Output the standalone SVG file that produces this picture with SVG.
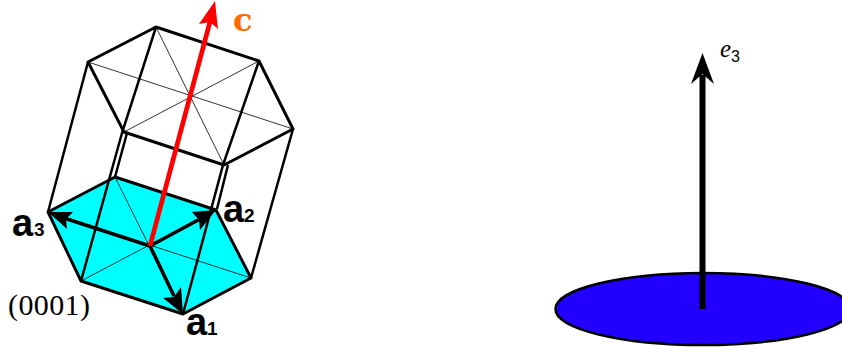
<svg xmlns="http://www.w3.org/2000/svg" width="842" height="350" viewBox="0 0 842 350">
<style>
.e{fill:none;stroke:#000;stroke-width:2.9;stroke-linejoin:round}
.v{fill:none;stroke:#000;stroke-width:2.5;stroke-linejoin:round}
.t{fill:none;stroke:#000;stroke-width:.8}
.a{stroke:#000;stroke-width:3.6;fill:none}
.h{fill:#000;stroke:none}
.b{font-family:"Liberation Sans",Arial,sans-serif;font-weight:bold;fill:#000}
</style>
<rect width="842" height="350" fill="#fff"/>
<g id="base-face">
<polygon points="48,212 115,177 216,210 251,278 183,314 81,281" fill="#00ffff"/>
<path class="t" d="M115,177L183,314M48,212L251,278M81,281L216,210"/>
<polygon class="e" points="48,212 115,177 216,210 251,278 183,314 81,281"/>
</g>
<g id="top-face">
<polygon class="e" points="156,27 259,61 293,129 224,165 124,132 88,62"/>
<path class="t" d="M156,27L224,165M259,61L124,132M88,62L293,129"/>
</g>
<g id="connectors">
<path class="v" d="M88,62L48,212M156,27L122,133L81,281M127,133L115,177M259,61L223,165L183,314M228,165L217,209M293,129L251,278"/>
<path class="a" d="M150,246L64,218"/><polygon class="h" points="48,212 73,212 66,219 67,229"/>
<path class="a" d="M150,246L200,219"/><polygon class="h" points="216,210 192,212 199,220 200,230"/>
<path class="a" d="M150,246L174,296"/><polygon class="h" points="183,314 163,298 174,297 181,287"/>
<path d="M150,246L211,18" fill="none" stroke="#ff0000" stroke-width="4.800"/>
<polygon points="215,1 199,24 210,22 218,29" fill="#ff0000"/>
</g>
<g id="label-c"><text x="233" y="31" font-family="'DejaVu Serif',serif" font-weight="bold" font-size="32" fill="#ff6a00">c</text></g>
<g id="label-a1"><text class="b" x="186" y="335" font-size="38">a</text><text class="b" x="207" y="335" font-size="19" font-weight="normal">1</text></g>
<g id="label-a2"><text class="b" x="223" y="222" font-size="38">a</text><text class="b" x="244" y="222" font-size="19">2</text></g>
<g id="label-a3"><text class="b" x="12" y="236" font-size="38">a</text><text class="b" x="34" y="236" font-size="19">3</text></g>
<g id="label-0001"><text x="8" y="315" font-family="'Liberation Serif',serif" font-size="30" letter-spacing=".4" fill="#000">(0001)</text></g>
<g id="disk"><ellipse cx="703" cy="309" rx="147.500" ry="36" fill="#2200ff" stroke="#000" stroke-width="2.500"/></g>
<g id="axis-e3">
<path d="M702.500,309V75" stroke="#000" stroke-width="6" fill="none"/>
<polygon class="h" points="702.500,53 691,84 702.500,74 714,84"/>
</g>
<g id="label-e3"><text x="720" y="57" font-family="'Liberation Serif',serif" font-style="italic" font-size="25" fill="#000">e</text><text x="731" y="62" font-family="'Liberation Sans',sans-serif" font-size="16" fill="#000">3</text></g>
</svg>
